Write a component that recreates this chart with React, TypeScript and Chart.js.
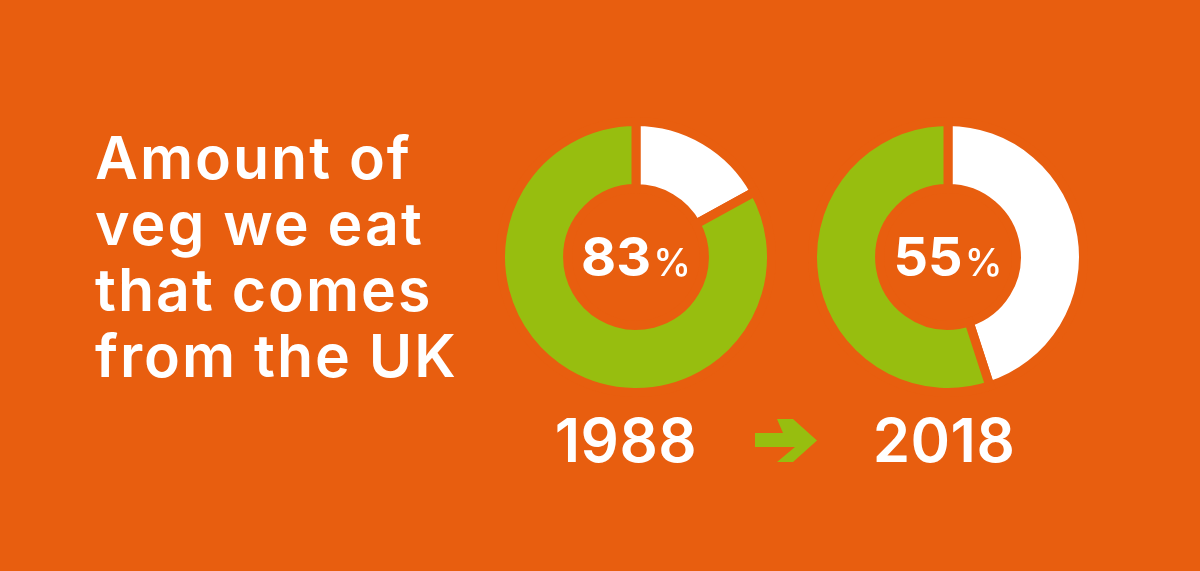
import React, { useEffect, useRef } from "react";
import { Chart, registerables } from "chart.js";

Chart.register(...registerables);

const years = ["1988", "2018"];
const ukShare = [83, 55];
const otherShare = [17, 45];
const titleLines = ["Amount of", "veg we eat", "that comes", "from the UK"];

const ORANGE = "#E85E0F";
const GREEN = "#97BE0F";
const WHITE = "#FFFFFF";
const FONT = "Inter, 'Open Sans', sans-serif";

function Donut({ index, left, yearShift }: { index: number; left: number; yearShift: number }) {
  const ref = useRef<HTMLCanvasElement>(null);
  useEffect(() => {
    const chart = new Chart(ref.current!, {
      type: "doughnut",
      data: {
        labels: ["Imported", "UK"],
        datasets: [
          {
            data: [otherShare[index], ukShare[index]],
            backgroundColor: [WHITE, GREEN],
            borderColor: ORANGE,
            borderWidth: 9,
            borderJoinStyle: "miter",
          },
        ],
      },
      options: {
        responsive: false,
        animation: false,
        cutout: "50.5%",
        plugins: { legend: { display: false }, tooltip: { enabled: false } },
        layout: { padding: 0 },
      },
    });
    return () => chart.destroy();
  }, [index]);
  return (
    <>
      <canvas
        ref={ref}
        width={280}
        height={280}
        style={{ position: "absolute", left, top: 117, width: 280, height: 280 }}
      />
      <div
        style={{
          position: "absolute",
          left: left,
          top: 117,
          width: 280,
          height: 280,
          display: "flex",
          alignItems: "center",
          justifyContent: "center",
          color: WHITE,
          fontFamily: FONT,
        }}
      >
        <span style={{ fontSize: 54, fontWeight: 700, letterSpacing: 0, lineHeight: 1 }}>
          {ukShare[index]}
          <span style={{ fontSize: 38, fontWeight: 500, marginLeft: 2 }}>%</span>
        </span>
      </div>
      <div
        style={{
          position: "absolute",
          left: left + yearShift,
          top: 404,
          width: 280,
          textAlign: "center",
          color: WHITE,
          fontFamily: FONT,
          fontSize: 60,
          fontWeight: 600,
          letterSpacing: 0.5,
          lineHeight: "72px",
        }}
      >
        {years[index]}
      </div>
    </>
  );
}

export default function App() {
  return (
    <div
      style={{
        position: "fixed",
        left: 0,
        top: 0,
        width: 1200,
        height: 571,
        background: ORANGE,
        overflow: "hidden",
      }}
    >
      <div
        style={{
          position: "absolute",
          left: 95,
          top: 125,
          color: WHITE,
          fontFamily: FONT,
          fontSize: 59,
          fontWeight: 600,
          lineHeight: "66px",
          letterSpacing: 2,
          whiteSpace: "nowrap",
        }}
      >
        {titleLines.map((t) => (
          <div key={t}>{t}</div>
        ))}
      </div>
      <Donut index={0} left={496} yearShift={-10} />
      <Donut index={1} left={808} yearShift={-4} />
      <svg
        style={{ position: "absolute", left: 755, top: 419 }}
        width={62}
        height={43}
        viewBox="0 0 62 43"
      >
        <polygon points="0,14 28,14 22,0 38,0 62,21.5 38,43 22,43 40,28 0,28" fill={GREEN} />
      </svg>
    </div>
  );
}
